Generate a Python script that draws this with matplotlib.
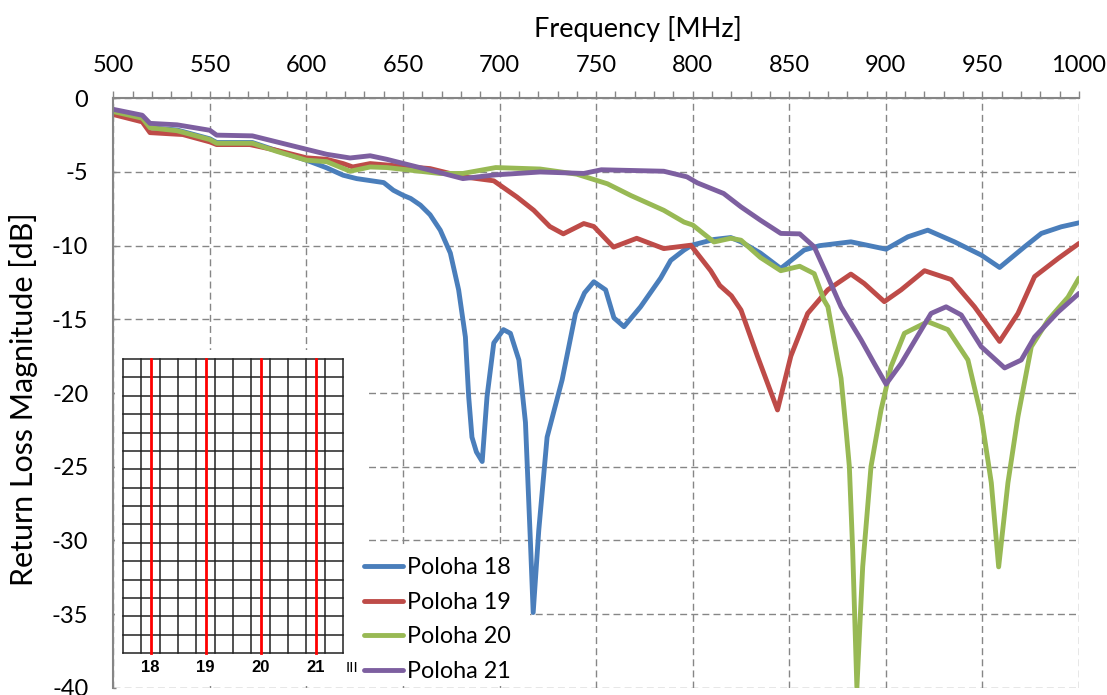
import matplotlib
matplotlib.use("Agg")
import matplotlib.pyplot as plt
from matplotlib.patches import Rectangle
from matplotlib.ticker import MultipleLocator

plt.rcParams['font.family'] = ['Lato', 'DejaVu Sans']

# ---- data ----
f18 = [500, 515, 519, 533, 550, 553.5, 572, 584.6, 600, 610.5, 619, 626, 640, 645, 650, 654, 659, 664,
       669.3, 674.5, 678.8, 682.3, 684, 685.7, 688, 691, 693.5, 697, 702, 705.6, 710, 713.4, 716, 717.4,
       720.3, 724.6, 732.4, 739.3, 744, 748.8, 754.9, 759.2, 764.4, 773, 783.4, 788.6, 795.5, 799.5, 811,
       819.7, 825, 835, 845.6, 857.7, 865.7, 881.9, 900.1, 911.4, 921.7, 935.5, 949.4, 958.9, 971.8, 980.5,
       990.8, 1000]
p18 = [-0.95, -1.4, -2.0, -2.15, -2.75, -3.0, -3.0, -3.55, -4.2, -4.72, -5.22, -5.45, -5.72, -6.24, -6.58,
       -6.8, -7.25, -7.9, -8.95, -10.5, -13.0, -16.2, -20.25, -23.0, -24.0, -24.65, -20.25, -16.6, -15.7,
       -15.95, -17.76, -22.0, -30.2, -34.9, -29.3, -23.0, -19.1, -14.6, -13.2, -12.45, -13.0, -14.9, -15.5,
       -14.15, -12.2, -11.0, -10.3, -9.97, -9.58, -9.45, -9.74, -10.5, -11.55, -10.3, -10.0, -9.74, -10.24,
       -9.4, -8.95, -9.74, -10.64, -11.48, -10.08, -9.17, -8.72, -8.45]

f19 = [500, 515, 519, 536, 550, 553.5, 570.7, 584.6, 600, 610.5, 619, 624, 633, 653.7, 664, 681.4, 697,
       709, 717.7, 726, 733, 743.6, 748.8, 759, 771, 785, 799, 809.3, 814, 820, 825, 833.5, 843.9, 850.8,
       859.5, 869.9, 881.9, 888.8, 899.2, 907.9, 920, 933.8, 945.9, 958.9, 968.4, 977, 989.2, 1000]
p19 = [-1.1, -1.6, -2.33, -2.46, -2.96, -3.14, -3.14, -3.53, -4.04, -4.14, -4.43, -4.66, -4.43, -4.66,
       -4.77, -5.33, -5.6, -6.7, -7.6, -8.7, -9.2, -8.5, -8.7, -10.1, -9.5, -10.2, -9.97, -11.7, -12.7,
       -13.4, -14.37, -17.5, -21.15, -17.5, -14.6, -13.0, -11.93, -12.57, -13.8, -13.0, -11.7, -12.3,
       -14.15, -16.5, -14.6, -12.1, -10.87, -9.85]

f20 = [500, 515, 519, 533, 550, 553.5, 572, 584.6, 600, 610.5, 622.6, 633, 641.6, 669, 681, 698, 721,
       740, 755.8, 768, 785, 795.5, 800, 811, 819.7, 825, 835, 845.6, 855.4, 862.9, 868, 870, 876.8,
       879.4, 881.1, 882.8, 885, 888, 892.3, 897.5, 902.7, 909.6, 921.7, 932.1, 942.5, 949.4, 954.6,
       958.4, 963.2, 968.4, 975.3, 984, 994.3, 1000]
p20 = [-0.9, -1.35, -2.0, -2.2, -2.8, -3.05, -3.05, -3.6, -4.2, -4.3, -4.95, -4.66, -4.7, -5.1, -5.1,
       -4.7, -4.8, -5.15, -5.8, -6.6, -7.6, -8.4, -8.6, -9.75, -9.5, -9.63, -10.8, -11.7, -11.4, -11.9,
       -13.7, -14.15, -19.0, -22.5, -25.0, -30.6, -40.0, -31.8, -25.0, -21.15, -18.2, -15.95, -15.16,
       -15.7, -17.76, -21.6, -26.1, -31.8, -26.1, -21.6, -16.86, -15.05, -13.5, -12.2]

f21 = [500, 515, 519, 533, 550, 553.5, 572, 584.6, 600, 610.5, 622.6, 633, 641.6, 653.7, 669, 681,
       697.6, 721, 743.6, 752.7, 785, 797, 802.4, 816, 825, 835, 845.6, 855.4, 862.9, 869.9, 876.8,
       887.2, 894, 900.1, 907.9, 923.4, 931.2, 939, 949.4, 961.5, 970.1, 977, 989.2, 1000]
p21 = [-0.75, -1.15, -1.7, -1.8, -2.17, -2.5, -2.55, -2.96, -3.46, -3.8, -4.05, -3.9, -4.14, -4.54,
       -5.04, -5.45, -5.2, -5.0, -5.1, -4.85, -4.95, -5.33, -5.74, -6.46, -7.37, -8.27, -9.17, -9.2,
       -10.08, -12.1, -14.15, -16.4, -18.0, -19.4, -18.0, -14.6, -14.15, -14.7, -16.86, -18.3, -17.76,
       -16.2, -14.5, -13.24]

series_names = ['Poloha 18', 'Poloha 19', 'Poloha 20', 'Poloha 21']
series_colors = ['#4A7EBB', '#BE4B48', '#98B954', '#7D5FA0']
inset_labels = ['18', '19', '20', '21']
y_ticks = [0, -5, -10, -15, -20, -25, -30, -35, -40]
y_tick_labels = ['0', '-5', '-10', '-15', '-20', '-25', '-30', '-35', '-40']

W, H = 1107, 695
fig = plt.figure(figsize=(W / 100, H / 100), dpi=100)

def fx(px):
    return px / W

def fy(py):
    return 1 - py / H

L, R, T, B = 113.3, 1079, 98.3, 687.7
ax = fig.add_axes([fx(L), fy(B), (R - L) / W, (B - T) / H])

grey = '#868686'
for f, p, c, n in zip([f18, f19, f20, f21], [p18, p19, p20, p21], series_colors, series_names):
    ax.plot(f, p, color=c, lw=3.5, label=n, solid_capstyle='round', solid_joinstyle='round', zorder=2)

ax.set_xlim(500, 1000)
ax.set_ylim(-40, 0)
ax.xaxis.set_major_locator(MultipleLocator(50))
ax.xaxis.set_minor_locator(MultipleLocator(10))
ax.set_yticks(y_ticks)
ax.set_yticklabels(y_tick_labels)
ax.xaxis.tick_top()
ax.xaxis.set_label_position('top')
ax.tick_params(axis='x', which='both', direction='out', length=5, width=1, color=grey,
               labelsize=17, pad=11)
ax.tick_params(axis='y', which='major', direction='in', length=2.5, width=1, color=grey,
               labelsize=17, pad=18)
ax.set_xlabel('Frequency [MHz]', fontsize=19.5, labelpad=13)
ax.xaxis.label.set_x(0.543)
ax.set_ylabel('Return Loss Magnitude [dB]', fontsize=22, labelpad=10)
ax.yaxis.label.set_y(0.49)

ax.set_axisbelow(True)
ax.grid(True, which='major', color=grey, lw=1.0, ls=(0, (5, 3)))
for s in ['right', 'bottom']:
    ax.spines[s].set_visible(False)
for s in ['top', 'left']:
    ax.spines[s].set_color(grey)
    ax.spines[s].set_linewidth(1.5)

# white areas that hide the grid behind the inset picture and the legend
for (x0, y0, x1, y1) in [(115, 350, 365, 686), (365, 547, 530, 686)]:
    ax.add_patch(Rectangle((fx(x0), fy(y1)), (x1 - x0) / W, (y1 - y0) / H,
                           transform=fig.transFigure, facecolor='white', edgecolor='none',
                           zorder=1))

leg = ax.legend(loc='center left', bbox_to_anchor=(fx(364), fy(619.5)),
                bbox_transform=fig.transFigure, frameon=False, fontsize=16.8,
                handlelength=1.65, handletextpad=0.18, labelspacing=0.58, borderpad=0,
                borderaxespad=0)

# inset: position grid drawing
axi = fig.add_axes([fx(123), fy(653), 220 / W, 294 / H])
axi.set_xlim(0, 12)
axi.set_ylim(0, 16)
axi.axis('off')
for i in range(13):
    axi.plot([i, i], [0, 16], color='#222222', lw=1.1, clip_on=False)
for j in range(17):
    axi.plot([0, 12], [j, j], color='#222222', lw=1.1, clip_on=False)
for k, lab in enumerate(inset_labels):
    xpos = 1.5 + 3 * k
    axi.plot([xpos, xpos], [0, 16], color='#FF0000', lw=2.0, clip_on=False)
    axi.text(xpos, -0.8, lab, ha='center', va='center', fontsize=12, fontweight='bold',
             family='Liberation Sans', clip_on=False)
axi.text(12.5, -0.8, 'III', ha='center', va='center', fontsize=11, family='Liberation Sans',
         clip_on=False)

fig.savefig('out.png', dpi=100)
